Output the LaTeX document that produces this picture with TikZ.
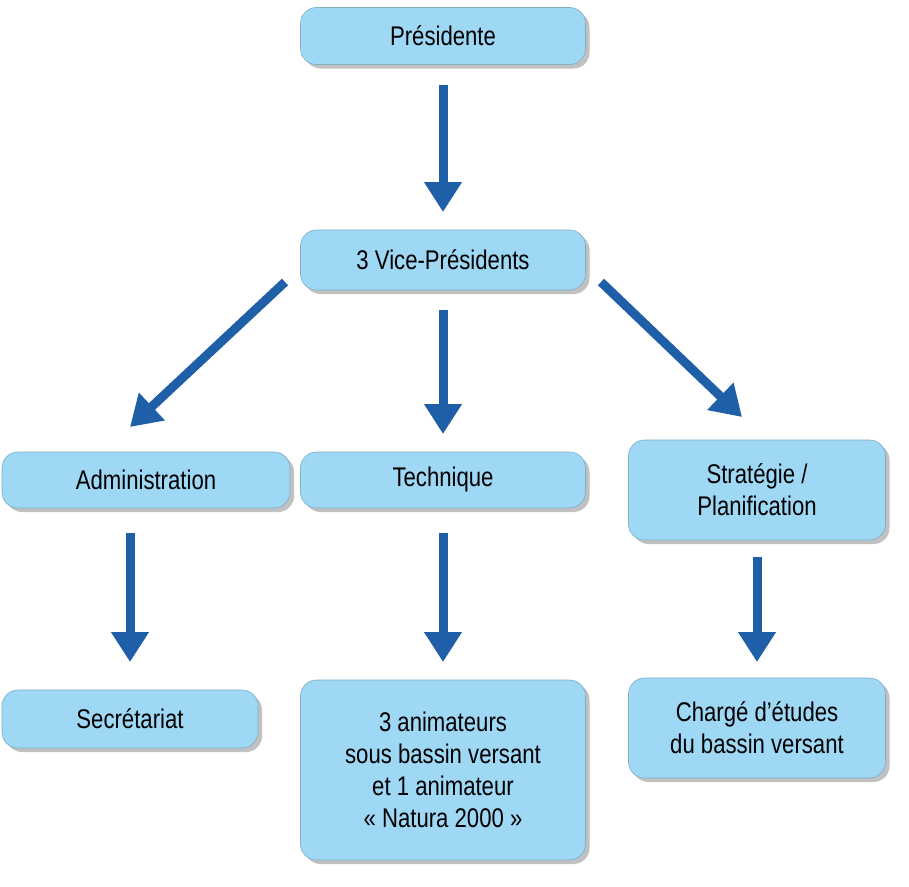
\documentclass[tikz,border=0pt]{standalone}
\usepackage{fontspec}
\setmainfont{Liberation Sans}[FakeStretch=0.82]
\usetikzlibrary{arrows.meta,shadows}
\definecolor{boxc}{HTML}{9ED8F5}
\definecolor{arrc}{HTML}{1F5FA8}
\tikzset{
 box/.style={draw=boxc!80!black,line width=0.6pt,fill=boxc,rounded corners=16pt,align=center,
   font=\fontsize{27}{32}\selectfont,inner sep=0pt,
   drop shadow={shadow xshift=4pt,shadow yshift=-4pt,fill=black!35,opacity=0.7}},
 arr/.style={arrc,line width=9pt,-{Triangle[width=36pt,length=30pt]}}
}
\begin{document}
\begin{tikzpicture}[x=1pt,y=-1pt]
\useasboundingbox (0,0) rectangle (909,886);
\node[box,minimum width=285pt,minimum height=57pt] (p) at (443,36) {Présidente};
\node[box,minimum width=285pt,minimum height=60pt] (vp) at (443,260) {3 Vice-Présidents};
\node[box,minimum width=288pt,minimum height=56pt] (ad) at (146,480) {Administration};
\node[box,minimum width=285pt,minimum height=56pt] (te) at (443,480) {Technique};
\node[box,minimum width=257pt,minimum height=100pt] (st) at (757,490) {Stratégie /\\Planification};
\node[box,minimum width=256pt,minimum height=58pt] (se) at (130,719) {Secrétariat};
\node[box,minimum width=285pt,minimum height=180pt] (an) at (443,770) {3 animateurs\\sous bassin versant\\et 1 animateur\\« Natura 2000 »};
\node[box,minimum width=257pt,minimum height=100pt] (ch) at (757,728) {Chargé d’études\\du bassin versant};
\coordinate (a1) at (443,85); \coordinate (a2) at (443,212);
\draw[arr] (a1) -- (a2);
\coordinate (b1) at (443,310); \coordinate (b2) at (443,434);
\draw[arr] (b1) -- (b2);
\coordinate (c1) at (285,282); \coordinate (c2) at (130,427);
\draw[arr] (c1) -- (c2);
\coordinate (d1) at (601,282); \coordinate (d2) at (742,417);
\draw[arr] (d1) -- (d2);
\coordinate (e1) at (130,533); \coordinate (e2) at (130,662);
\draw[arr] (e1) -- (e2);
\coordinate (f1) at (443,533); \coordinate (f2) at (443,662);
\draw[arr] (f1) -- (f2);
\coordinate (g1) at (757,557); \coordinate (g2) at (757,662);
\draw[arr] (g1) -- (g2);
\end{tikzpicture}
\end{document}
